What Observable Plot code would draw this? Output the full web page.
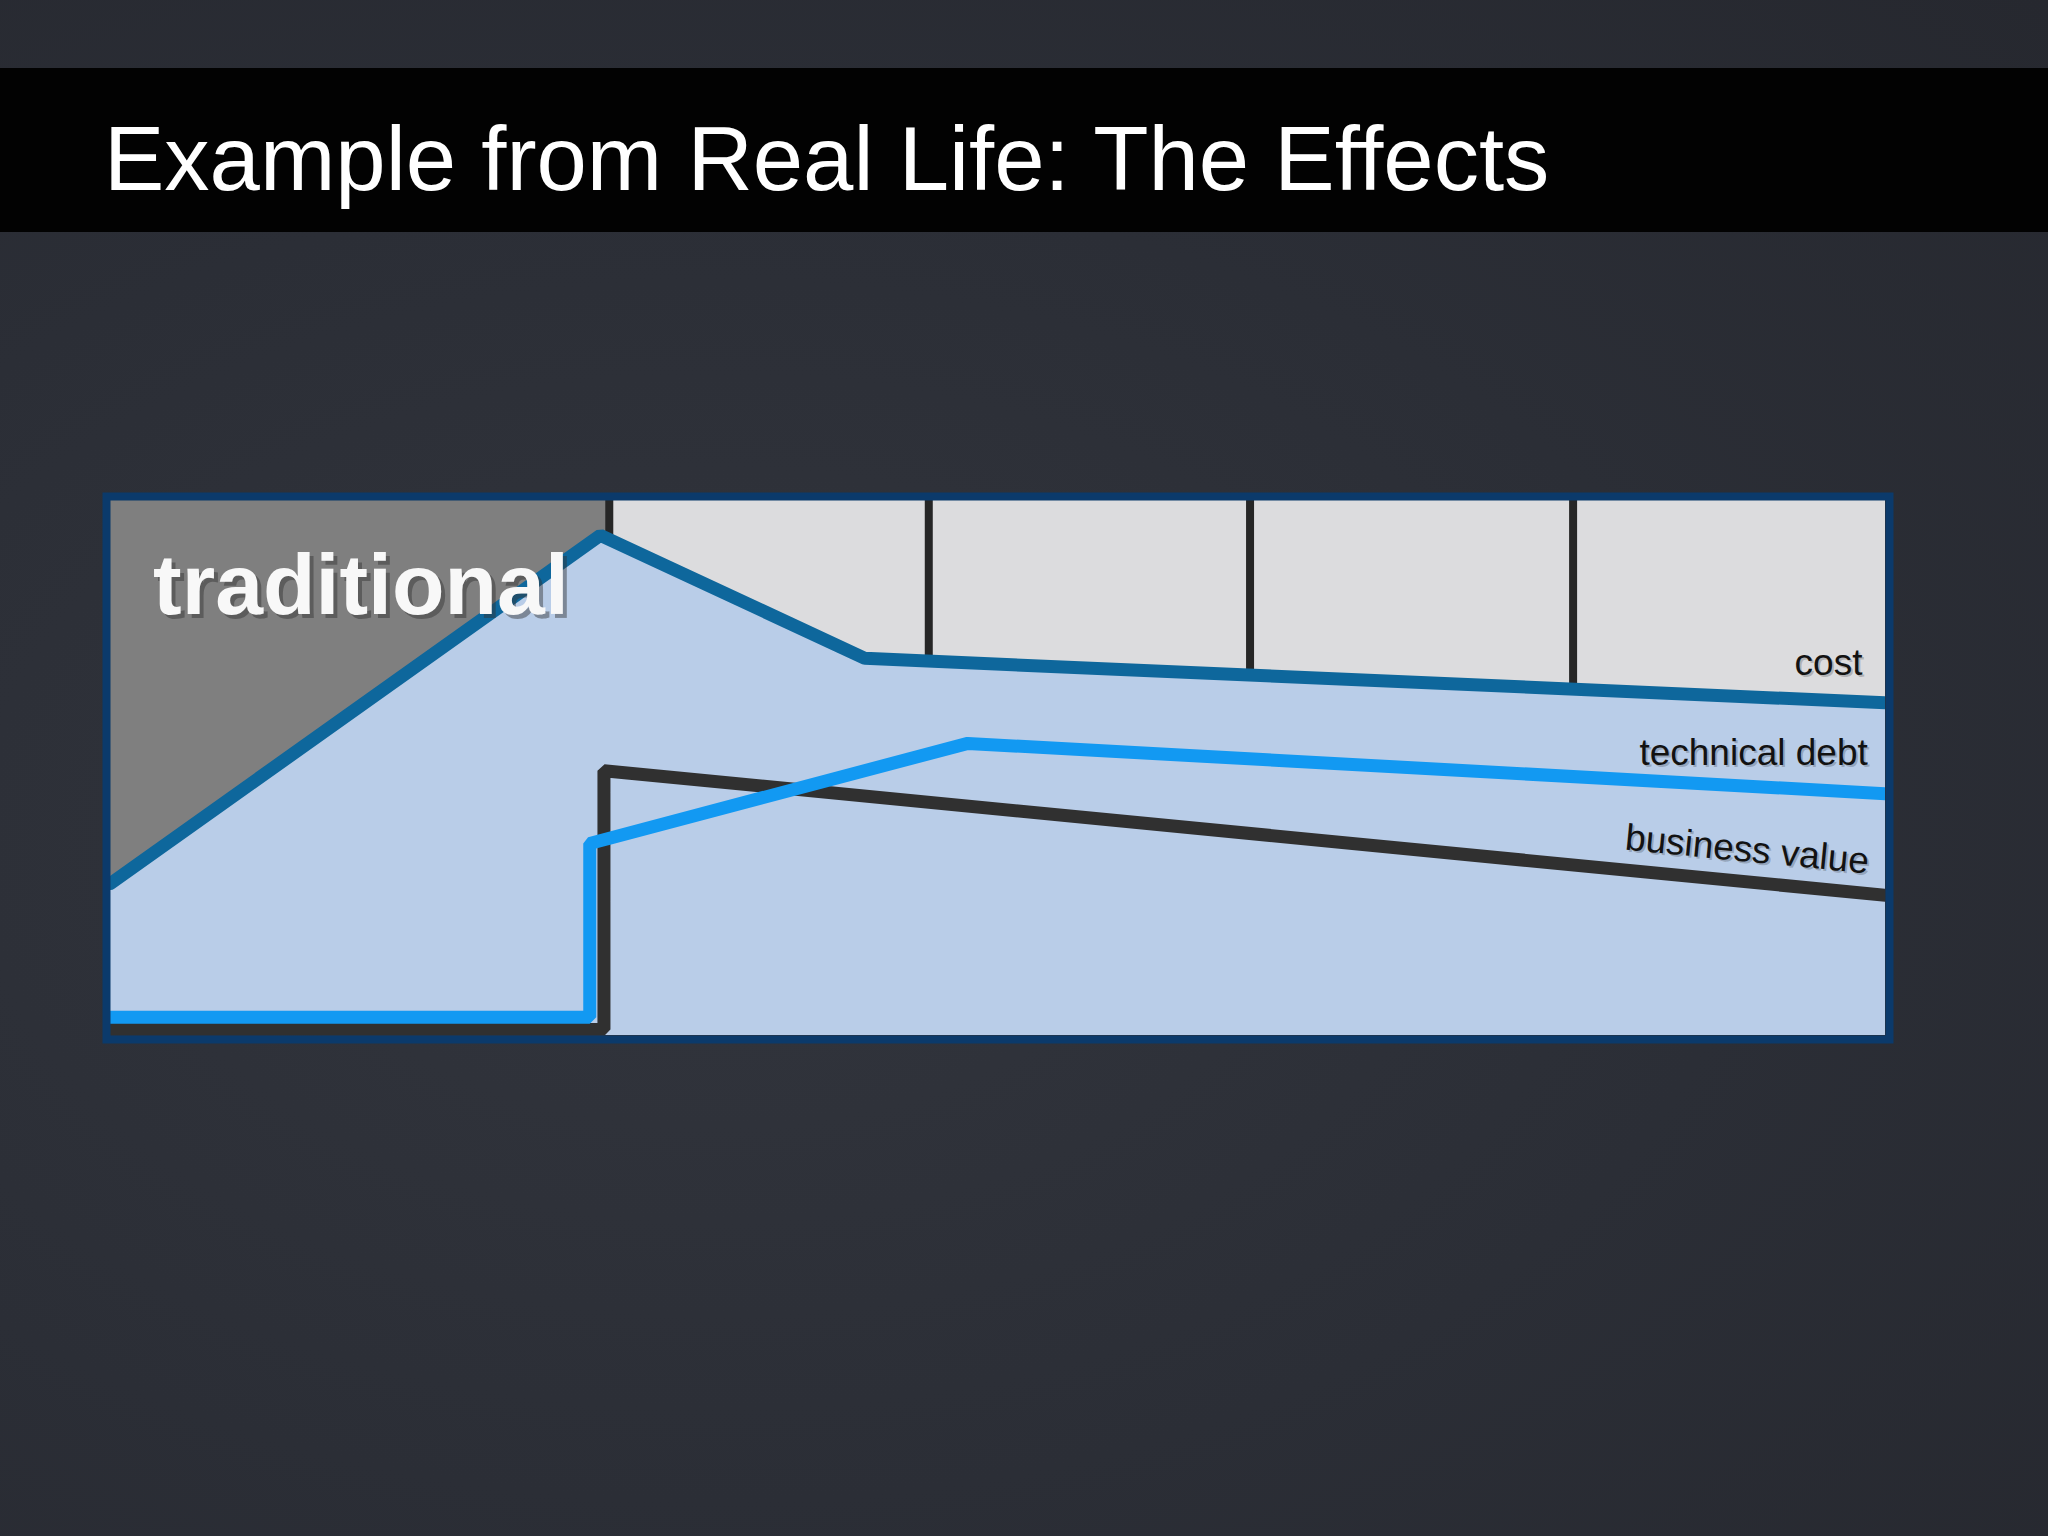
<!DOCTYPE html>
<html>
<head>
<meta charset="utf-8">
<script src="https://cdn.jsdelivr.net/npm/d3@7"></script>
<script src="https://cdn.jsdelivr.net/npm/@observablehq/plot@0.6"></script>
<style>
  html, body { margin: 0; padding: 0; }
  body {
    width: 2048px; height: 1536px; overflow: hidden;
    background: radial-gradient(ellipse at 35% 55%, #32353d 0%, #2b2e36 55%, #26282f 100%);
    font-family: "Liberation Sans", Arial, sans-serif;
  }
  #spacer { height: 68px; }
  #bar { height: 164px; background: #020202; position: relative; }
  #title {
    position: absolute; left: 104px; top: 46px;
    font-size: 90.5px; line-height: 1; color: #ffffff; white-space: nowrap;
  }
  #chart svg { display: block; }
</style>
</head>
<body>
<div id="spacer"></div>
<div id="bar"><div id="title">Example from Real Life: The Effects</div></div>
<div id="chart"></div>
<script>
// ---- data (x: time 0..100 across the box, y: amount 0..100) ----
const costX = [0, 27.6, 42.5, 100];
const costY = [28.4, 93.5, 70.5, 62.2];
const debtX = [0, 27.0, 27.0, 48.3, 100];
const debtY = [3.4, 3.4, 35.9, 54.6, 45.2];
const valueX = [0, 27.8, 27.8, 100];
const valueY = [1.1, 1.1, 49.5, 26.2];
const columnEdges = [28.1, 46.1, 64.2, 82.4];
const phaseName = "traditional";
const seriesNames = ["cost", "technical debt", "business value"];
const labelX = [98.7, 99.0, 99.0];
const labelY = [67.3, 50.5, 30.3];
const labelAngle = [0, 0, 5.6];
const phaseLabelX = [2.4];
const phaseLabelY = [78.7];

// ---- tables built from the arrays ----
const toRows = (xs, ys) => xs.map((x, i) => ({x, y: ys[i]}));
const cost = toRows(costX, costY);
const debt = toRows(debtX, debtY);
const value = toRows(valueX, valueY);
const xMin = 0, xMax = 100, yMin = 0, yMax = 100;
const panels = [
  {x1: xMin, x2: columnEdges[0], y1: yMin, y2: yMax, fill: "#7f7f7f"},
  {x1: columnEdges[0], x2: xMax, y1: yMin, y2: yMax, fill: "#dcdcde"}
];
const labels = seriesNames.map((t, i) => ({text: t, x: labelX[i], y: labelY[i], r: labelAngle[i]}));
const phase = [{text: phaseName, x: phaseLabelX[0], y: phaseLabelY[0]}];

const font = "Liberation Sans, Arial, sans-serif";

const chart = Plot.plot({
  width: 2048,
  height: 1304,
  marginLeft: 110,
  marginRight: 163,
  marginTop: 268,
  marginBottom: 501,
  x: {domain: [xMin, xMax], axis: null},
  y: {domain: [yMin, yMax], axis: null},
  style: {background: "transparent", overflow: "visible"},
  marks: [
    Plot.rect(panels, {x1: "x1", x2: "x2", y1: "y1", y2: "y2", fill: "fill"}),
    Plot.ruleX(columnEdges, {y1: yMin, y2: yMax, stroke: "#262626", strokeWidth: 8}),
    Plot.areaY(cost, {x: "x", y: "y", fill: "#b9cde8"}),
    Plot.line(value, {x: "x", y: "y", stroke: "#303030", strokeWidth: 13, strokeLinejoin: "miter", clip: true}),
    Plot.line(debt, {x: "x", y: "y", stroke: "#1299f2", strokeWidth: 13, strokeLinejoin: "miter", clip: true}),
    Plot.line(cost, {x: "x", y: "y", stroke: "#0e679c", strokeWidth: 13, strokeLinejoin: "miter", clip: true}),
    // phase label with drop shadow
    Plot.text(phase, {x: "x", y: "y", text: "text", textAnchor: "start", lineAnchor: "bottom",
      fontSize: 86, fontWeight: "bold", fontFamily: font, fill: "#333", fillOpacity: 0.45, dx: 4, dy: 4}),
    Plot.text(phase, {x: "x", y: "y", text: "text", textAnchor: "start", lineAnchor: "bottom",
      fontSize: 86, fontWeight: "bold", fontFamily: font, fill: "#f8f8f8"}),
    // series labels with soft shadow
    Plot.text(labels, {x: "x", y: "y", text: "text", rotate: "r", textAnchor: "end", lineAnchor: "bottom",
      fontSize: 37, fontFamily: font, fill: "#000", fillOpacity: 0.2, dx: 2, dy: 2}),
    Plot.text(labels, {x: "x", y: "y", text: "text", rotate: "r", textAnchor: "end", lineAnchor: "bottom",
      fontSize: 37, fontFamily: font, fill: "#121212"}),
    Plot.frame({stroke: "#0b3a6b", strokeWidth: 8, inset: -4})
  ]
});
document.getElementById("chart").appendChild(chart);
</script>
</body>
</html>
